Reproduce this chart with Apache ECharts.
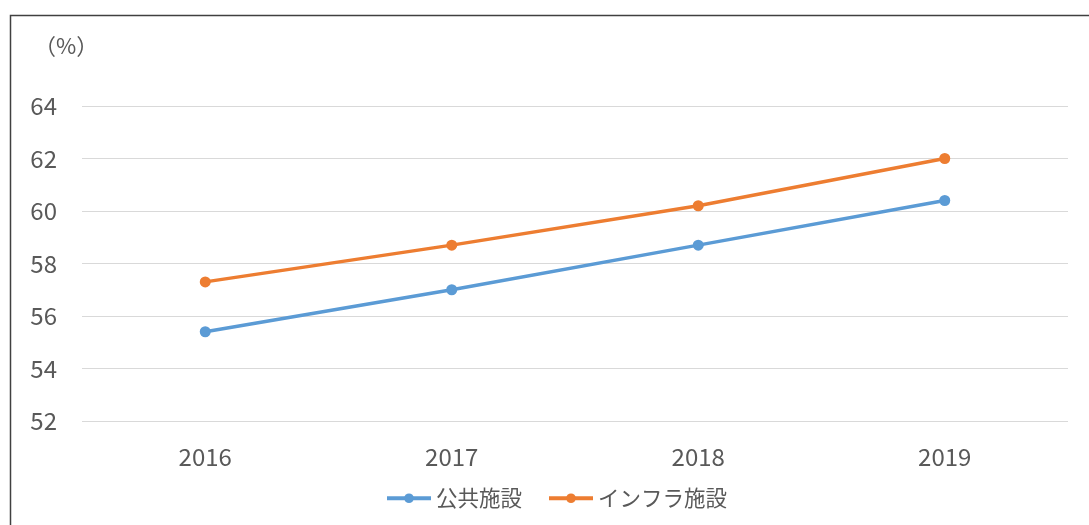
<!DOCTYPE html>
<html>
<head>
<meta charset="utf-8">
<script src="https://cdn.jsdelivr.net/npm/echarts@6/dist/echarts.min.js"></script>
<style>
  html, body { margin: 0; padding: 0; background: #fff; }
  #chart { width: 1089px; height: 525px; }
</style>
</head>
<body>
<div id="chart"></div>
<script>
const years = ['2016', '2017', '2018', '2019']
const publicFacilities = [55.4, 57.0, 58.7, 60.4]
const infraFacilities = [57.3, 58.7, 60.2, 62.0]

const font = '"Noto Sans CJK JP", "Open Sans", sans-serif'
const textColor = '#595959'

const chart = echarts.init(document.getElementById('chart'))
chart.setOption({
  animation: false,
  textStyle: { fontFamily: font },
  graphic: [
    {
      type: 'rect',
      shape: { x: 10.5, y: 15.5, width: 1200, height: 700 },
      style: { fill: 'none', stroke: '#404040', lineWidth: 1.5 },
      silent: true
    },
    {
      type: 'text',
      left: 34,
      top: 35,
      style: { text: '（%）', fill: textColor, fontSize: 22, fontFamily: font }
    }
  ],
  grid: { left: 82, right: 21, top: 106, bottom: 104 },
  legend: {
    bottom: 11,
    left: 380,
    itemWidth: 44,
    itemHeight: 12,
    itemGap: 25,
    lineStyle: { width: 4 },
    textStyle: { fontSize: 21.5, color: textColor, fontFamily: font }
  },
  xAxis: {
    type: 'category',
    data: years,
    boundaryGap: true,
    axisLine: { show: false },
    axisTick: { show: false },
    axisLabel: { fontSize: 24, color: textColor, margin: 24 }
  },
  yAxis: {
    type: 'value',
    min: 52,
    max: 64,
    interval: 2,
    axisLine: { show: false },
    axisTick: { show: false },
    axisLabel: { fontSize: 24, color: textColor, margin: 25 },
    splitLine: { lineStyle: { color: '#d9d9d9', width: 1 } }
  },
  series: [
    {
      name: '公共施設',
      type: 'line',
      data: publicFacilities,
      symbol: 'circle',
      symbolSize: 11,
      lineStyle: { width: 3.5, color: '#5B9BD5' },
      itemStyle: { color: '#5B9BD5' }
    },
    {
      name: 'インフラ施設',
      type: 'line',
      data: infraFacilities,
      symbol: 'circle',
      symbolSize: 11,
      lineStyle: { width: 3.5, color: '#ED7D31' },
      itemStyle: { color: '#ED7D31' }
    }
  ]
})
</script>
</body>
</html>
